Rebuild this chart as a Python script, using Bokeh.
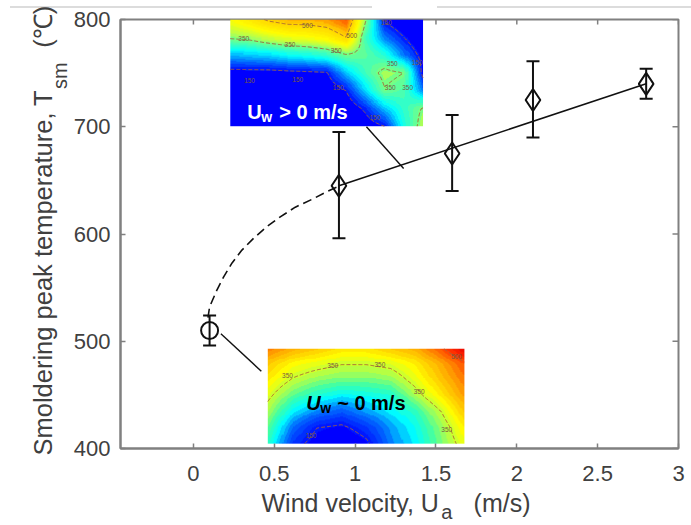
import numpy as np
from bokeh.embed import file_html
from bokeh.resources import INLINE
from bokeh.plotting import figure
from bokeh.core.properties import value
from bokeh.models import (ColumnDataSource, LinearColorMapper, Whisker, TeeHead,
                          LinearAxis, Range1d, FixedTicker)

# ---- data ----
velocity = [0.9, 1.6, 2.1, 2.8]
peak_temp = [645, 675, 725, 740]
peak_low = [596, 640, 690, 726]
peak_high = [695, 711, 761, 754]
still_velocity = [0.1]
still_temp = [510]
still_low = [496]
still_high = [524]
trend_x = [0.9, 2.8]
trend_y = [645, 740]
dash_x = [0.09, 0.10, 0.146, 0.187, 0.239, 0.30, 0.372, 0.455, 0.537, 0.63, 0.743, 0.825, 0.89]
dash_y = [522, 532, 548, 560, 573, 585, 596, 607, 616, 625, 633, 639.5, 644]
leader_up_x = [1.07, 1.30]
leader_up_y = [700, 661]
leader_low_x = [0.17, 0.42]
leader_low_y = [507, 472]
x_ticks = [0, 0.5, 1, 1.5, 2, 2.5, 3]
y_ticks = [400, 500, 600, 700, 800]

# inset field readings, top row first (deg C)
wind_field = [
    [430, 470, 510, 530, 530, 540, 580, 360, 140, 110, 100],
    [360, 370, 400, 420, 430, 450, 500, 310, 200, 150, 100],
    [230, 240, 250, 270, 280, 300, 345, 330, 290, 200, 130],
    [130, 130, 130, 135, 140, 145, 240, 310, 370, 350, 130],
    [100, 100, 100, 100, 100, 110, 150, 250, 345, 320, 200],
    [100, 100, 100, 100, 100, 100, 110, 160, 240, 300, 355],
    [100, 100, 100, 100, 100, 100, 100, 120, 150, 280, 380],
]
still_field = [
    [470, 440, 420, 400, 400, 420, 440, 490, 550],
    [420, 380, 365, 350, 350, 360, 390, 440, 490],
    [390, 345, 320, 310, 310, 320, 365, 420, 470],
    [360, 300, 270, 250, 260, 270, 330, 390, 450],
    [330, 250, 210, 190, 220, 250, 280, 345, 420],
    [300, 200, 150, 140, 170, 220, 260, 320, 390],
    [280, 170, 130, 110, 140, 210, 250, 310, 370],
]
wind_box = (0.228, 1.42, 700.5, 800)
still_box = (0.46, 1.676, 404.5, 493)
wind_temps = [130, 190, 260, 350, 370, 430, 510, 580, 620]
still_temps = [130, 200, 250, 290, 330, 380, 450, 520, 560]
wind_rgb = [(0, 0, 255), (0, 110, 255), (0, 255, 255), (120, 255, 130), (180, 255, 80),
            (255, 255, 0), (255, 210, 0), (255, 90, 0), (240, 30, 0)]
still_rgb = [(0, 0, 255), (0, 110, 255), (0, 255, 255), (60, 255, 170), (170, 255, 80),
             (255, 255, 0), (255, 165, 0), (255, 40, 0), (230, 0, 0)]
wind_labels = ["150", "150", "350", "350", "350", "500", "500", "150", "150", "150", "350", "350", "150", "350"]
wind_lab_fx = [0.10, 0.35, 0.07, 0.31, 0.55, 0.40, 0.63, 0.56, 0.75, 0.81, 0.84, 0.92, 0.97, 0.83]
wind_lab_fy = [0.43, 0.44, 0.82, 0.77, 0.71, 0.94, 0.85, 0.36, 0.08, 0.97, 0.59, 0.36, 0.60, 0.36]
still_labels = ["350", "350", "350", "350", "350", "500", "150"]
still_lab_fx = [0.10, 0.33, 0.57, 0.77, 0.91, 0.96, 0.22]
still_lab_fy = [0.72, 0.82, 0.83, 0.55, 0.15, 0.92, 0.09]

FONT = "Liberation Sans"
TXT = "#404040"
GREY = "#808080"
INK = "#111111"
NB = "\u00a0"


def upsample(field, nx, ny):
    z = np.array(field[::-1], dtype=float)
    r, c = z.shape
    xi = np.linspace(0, c - 1, nx)
    yi = np.linspace(0, r - 1, ny)
    across = np.array([np.interp(xi, np.arange(c), row) for row in z])
    return np.array([np.interp(yi, np.arange(r), col) for col in across.T]).T


def make_palette(temps, rgb, n=30):
    t = np.linspace(temps[0], temps[-1], n)
    chans = [np.interp(t, temps, [c[i] for c in rgb]) for i in range(3)]
    return ["#%02x%02x%02x" % (int(a), int(b), int(c)) for a, b, c in zip(*chans)]


p = figure(width=691, height=525, output_backend="svg", toolbar_location=None,
           x_range=Range1d(-0.451, 3.0), y_range=Range1d(400, 800),
           min_border_left=120, min_border_right=13, min_border_top=19, min_border_bottom=76)
p.grid.visible = False
p.background_fill_color = "white"
p.border_fill_color = None
p.outline_line_color = GREY
p.outline_line_width = 2
# the faint rule across the top of the source figure
rule = "linear-gradient(#dcdcdc,#dcdcdc)"
p.styles = {"background": f"{rule} 10px 6px/362px 2px no-repeat, {rule} 437px 6px/254px 2px no-repeat, white"}

# inward ticks of the top and right edges
top_len = 5 / 1.075
right_len = 6 / 161.8
p.segment(x_ticks, [800] * len(x_ticks), x_ticks, [800 - top_len] * len(x_ticks), line_color=GREY, line_width=1.5)
p.segment([3.0] * len(y_ticks), y_ticks, [3.0 - right_len] * len(y_ticks), y_ticks, line_color=GREY, line_width=1.5)

for field, box, temps, rgb in ((wind_field, wind_box, wind_temps, wind_rgb),
                               (still_field, still_box, still_temps, still_rgb)):
    mapper = LinearColorMapper(palette=make_palette(temps, rgb), low=temps[0], high=temps[-1])
    x0, x1, y0, y1 = box
    z = upsample(field, 190, 100)
    p.image(image=[z], x=x0, y=y0, dw=x1 - x0, dh=y1 - y0, color_mapper=mapper)
    xs = np.linspace(x0, x1, z.shape[1])
    ys = np.linspace(y0, y1, z.shape[0])
    p.contour(xs, ys, z, levels=[150, 350, 500], fill_color=None,
              line_color="#a5603a", line_width=1, line_dash="4 2", line_alpha=0.9)


def tiny(labels, fx, fy, box):
    x0, x1, y0, y1 = box
    p.text([x0 + f * (x1 - x0) for f in fx], [y0 + f * (y1 - y0) for f in fy], text=labels,
           text_font=value(FONT), text_font_size="6.5px", text_color="#7a5a40",
           text_align="center", text_baseline="middle")


tiny(wind_labels, wind_lab_fx, wind_lab_fy, wind_box)
tiny(still_labels, still_lab_fx, still_lab_fy, still_box)

# inset captions
for tx, ty, s, col, size, style in [
    (0.333, 713.5, "U", "white", "20px", "bold"), (0.42, 709, "w", "white", "14px", "bold"),
    (0.531, 713.5, "> 0 m/s", "white", "20px", "bold"),
    (0.698, 442.8, "U", "black", "20px", "bold italic"), (0.784, 438, "w", "black", "14px", "bold"),
    (0.889, 442.8, "~ 0 m/s", "black", "20px", "bold"),
]:
    p.text([tx], [ty], text=[s], text_font=value(FONT), text_font_size=size, text_color=col,
           text_font_style=style, text_baseline="alphabetic")

# measurements
p.line(dash_x, dash_y, line_color=INK, line_width=1.6, line_dash="9 5")
p.line(trend_x, trend_y, line_color=INK, line_width=1.6)
p.line(leader_up_x, leader_up_y, line_color=INK, line_width=1.4)
p.line(leader_low_x, leader_low_y, line_color=INK, line_width=1.4)

src = ColumnDataSource(dict(x=velocity, y=peak_temp, lo=peak_low, hi=peak_high))
src2 = ColumnDataSource(dict(x=still_velocity, y=still_temp, lo=still_low, hi=still_high))
for s in (src, src2):
    p.add_layout(Whisker(source=s, base="x", upper="hi", lower="lo", line_color=INK, line_width=2,
                         upper_head=TeeHead(size=13, line_color=INK, line_width=2),
                         lower_head=TeeHead(size=13, line_color=INK, line_width=2)))
p.scatter("x", "y", source=src, marker="diamond", size=22, fill_color=None, line_color=INK, line_width=2)
p.scatter("x", "y", source=src2, marker="circle", size=17, fill_color=None, line_color=INK, line_width=2)

# axes
for ax, ticks in ((p.xaxis[0], x_ticks), (p.yaxis[0], y_ticks)):
    ax.ticker = FixedTicker(ticks=ticks)
    ax.major_tick_in = 5
    ax.major_tick_out = 0
    ax.minor_tick_line_color = None
    ax.major_tick_line_color = GREY
    ax.major_tick_line_width = 1.5
    ax.axis_line_color = GREY
    ax.axis_line_width = 2
    ax.major_label_text_font = FONT
    ax.major_label_text_font_size = "22px"
    ax.major_label_text_color = TXT
    ax.axis_label_text_font = FONT
    ax.axis_label_text_font_style = "normal"
    ax.axis_label_text_color = TXT
p.xaxis[0].major_label_overrides = {0: "0", 0.5: "0.5", 1: "1", 1.5: "1.5", 2: "2", 2.5: "2.5", 3: "3"}
p.xaxis[0].major_label_standoff = 17
p.yaxis[0].major_label_standoff = 10
p.xaxis[0].axis_label = "Wind velocity, U" + NB * 5 + "(m/s)" + NB
p.xaxis[0].axis_label_text_font_size = "25px"
p.xaxis[0].axis_label_standoff = 5


def title_axis(text, size, standoff, side):
    ax = LinearAxis(ticker=FixedTicker(ticks=[]), axis_line_color=None, major_tick_line_color=None,
                    minor_tick_line_color=None, major_tick_in=0, major_tick_out=0, major_label_standoff=0,
                    axis_label=text, axis_label_text_font=FONT, axis_label_text_font_size=size,
                    axis_label_text_font_style="normal", axis_label_text_color=TXT,
                    axis_label_standoff=standoff)
    p.add_layout(ax, side)


# subscripts sit on their own title lines, beside the titles they belong to
title_axis(NB * 17 + "a", "20px", -19, "below")
title_axis(NB * 57 + "sm", "20px", 0, "left")
title_axis(NB + "Smoldering peak temperature, T" + NB * 6 + "(\u2103)", "25.5px", -11, "left")

open("out.html", "w").write(file_html(p, INLINE))
